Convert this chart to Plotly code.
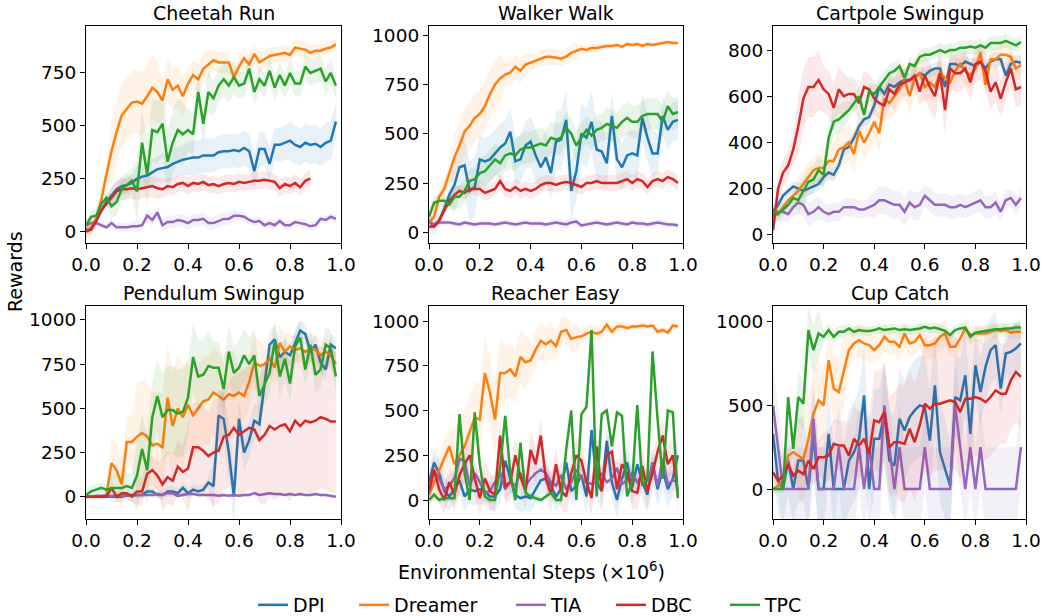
import plotly.graph_objects as go
from plotly.subplots import make_subplots

# ---------------- data ----------------
STEPS = [0.00, 0.02, 0.04, 0.06, 0.08, 0.10, 0.12, 0.14, 0.16, 0.18,
         0.20, 0.22, 0.24, 0.26, 0.28, 0.30, 0.32, 0.34, 0.36, 0.38,
         0.40, 0.42, 0.44, 0.46, 0.48, 0.50, 0.52, 0.54, 0.56, 0.58,
         0.60, 0.62, 0.64, 0.66, 0.68, 0.70, 0.72, 0.74, 0.76, 0.78,
         0.80, 0.82, 0.84, 0.86, 0.88, 0.90, 0.92, 0.94, 0.96, 0.98]

METHODS = ["DPI", "Dreamer", "TIA", "DBC", "TPC"]
COLORS = {"DPI": "#1f77b4", "Dreamer": "#ff7f0e", "TIA": "#9467bd",
          "DBC": "#d62728", "TPC": "#2ca02c"}
BAND_RGB = {"DPI": "31,119,180", "Dreamer": "255,127,14", "TIA": "148,103,189",
            "DBC": "214,39,40", "TPC": "44,160,44"}

TASKS = ["Cheetah Run", "Walker Walk", "Cartpole Swingup",
         "Pendulum Swingup", "Reacher Easy", "Cup Catch"]

# ---- Cheetah Run ----
cheetah_dpi = [10, 10, 50, 100, 140, 170, 200, 215, 220, 230, 250, 260, 265, 280, 295,
               300, 305, 320, 330, 340, 345, 350, 350, 360, 360, 360, 375, 380, 380, 385,
               380, 395, 380, 285, 390, 390, 320, 410, 410, 420, 430, 410, 400, 420, 410,
               415, 400, 420, 430, 520]
cheetah_dreamer = [0, 20, 60, 150, 270, 380, 470, 550, 580, 610, 615, 605, 640, 680, 660,
                   620, 720, 670, 690, 640, 700, 740, 720, 770, 790, 810, 800, 800, 800, 730,
                   780, 820, 790, 840, 800, 815, 830, 835, 840, 845, 835, 870, 865, 860, 845,
                   855, 855, 865, 870, 885]
cheetah_tia = [30, 40, 40, 30, 20, 40, 20, 20, 20, 25, 25, 30, 75, 55, 90,
               30, 45, 45, 55, 50, 40, 55, 55, 60, 40, 40, 50, 60, 60, 75,
               75, 70, 55, 45, 50, 30, 40, 30, 50, 30, 30, 45, 40, 35, 25,
               30, 60, 55, 70, 60]
cheetah_dbc = [0, 10, 50, 100, 130, 160, 190, 200, 200, 205, 200, 205, 210, 215, 205,
               200, 215, 210, 225, 230, 215, 230, 225, 235, 220, 225, 215, 225, 230, 225,
               235, 230, 235, 240, 240, 245, 240, 235, 205, 225, 215, 230, 210, 240, 250]
cheetah_tpc = [30, 70, 75, 130, 160, 120, 140, 200, 220, 240, 190, 420, 270, 480, 470,
               510, 330, 420, 480, 460, 480, 460, 660, 510, 660, 630, 690, 720, 690, 730,
               690, 700, 770, 660, 720, 690, 760, 680, 740, 690, 750, 700, 700, 780, 750,
               760, 770, 710, 750, 690]

# ---- Walker Walk ----
walker_dpi = [60, 30, 60, 120, 190, 240, 330, 340, 210, 230, 370, 360, 370, 400, 430,
              450, 510, 360, 370, 440, 460, 390, 330, 380, 300, 460, 470, 570, 210, 310,
              500, 480, 560, 420, 410, 350, 590, 370, 330, 390, 400, 390, 580, 480, 400,
              400, 590, 520, 560, 570]
walker_dreamer = [50, 80, 180, 220, 300, 380, 440, 510, 540, 580, 600, 640, 700, 750, 780,
                  800, 810, 840, 820, 850, 860, 870, 880, 890, 890, 885, 880, 890, 910, 920,
                  930, 925, 935, 935, 940, 945, 945, 950, 940, 955, 950, 955, 945, 955, 950,
                  955, 960, 965, 960, 960]
walker_tia = [50, 40, 50, 50, 50, 45, 40, 50, 45, 40, 45, 45, 45, 40, 45,
              50, 45, 40, 45, 50, 45, 45, 45, 40, 45, 50, 45, 40, 50, 55,
              35, 40, 45, 50, 45, 40, 45, 50, 45, 40, 50, 45, 45, 40, 45,
              50, 45, 40, 40, 35]
walker_dbc = [30, 30, 60, 110, 160, 190, 210, 200, 220, 220, 220, 200, 210, 220, 260,
              220, 210, 230, 210, 220, 210, 220, 240, 250, 250, 240, 250, 255, 250, 240,
              230, 250, 250, 260, 250, 250, 250, 250, 260, 270, 250, 270, 260, 230, 260,
              270, 260, 280, 270, 250]
walker_tpc = [80, 150, 160, 160, 140, 180, 180, 210, 260, 270, 300, 310, 340, 370, 350,
              390, 400, 390, 420, 430, 430, 440, 450, 440, 480, 470, 480, 530, 500, 440,
              480, 520, 490, 520, 530, 550, 540, 530, 560, 580, 560, 560, 590, 600, 600,
              600, 560, 640, 600, 610]

# ---- Cartpole Swingup ----
cartpole_dpi = [100, 130, 170, 190, 210, 200, 190, 200, 210, 220, 250, 270, 260, 300, 370,
                380, 420, 470, 500, 510, 560, 640, 610, 650, 640, 660, 670, 670, 680, 700,
                690, 710, 720, 720, 640, 740, 740, 730, 750, 740, 730, 750, 720, 750, 760,
                760, 690, 740, 750, 745]
cartpole_dreamer = [80, 90, 120, 150, 170, 190, 220, 250, 280, 290, 290, 320, 320, 370, 380,
                    400, 350, 450, 400, 440, 490, 440, 590, 570, 600, 630, 670, 600, 680, 700,
                    640, 660, 640, 700, 680, 660, 710, 740, 710, 690, 720, 790, 650, 760, 760,
                    780, 780, 770, 720, 735]
cartpole_tia = [90, 100, 100, 90, 120, 140, 130, 90, 100, 120, 100, 90, 100, 100, 120,
                120, 120, 110, 110, 120, 130, 150, 150, 140, 130, 130, 100, 140, 120, 130,
                170, 150, 130, 130, 130, 120, 120, 130, 120, 130, 140, 150, 120, 120, 140,
                100, 150, 160, 130, 160]
cartpole_dbc = [20, 200, 270, 300, 370, 470, 590, 640, 640, 670, 630, 610, 550, 630, 600,
                610, 610, 570, 640, 630, 590, 570, 560, 630, 610, 650, 660, 670, 690, 620,
                690, 640, 600, 700, 540, 720, 700, 700, 720, 660, 740, 750, 710, 620, 660,
                590, 660, 720, 630, 640]
cartpole_tpc = [110, 90, 110, 130, 160, 150, 190, 230, 240, 280, 260, 420, 490, 500, 520,
                540, 570, 600, 520, 620, 610, 640, 670, 700, 710, 730, 680, 740, 730, 770,
                780, 780, 790, 800, 790, 800, 800, 810, 810, 815, 810, 820, 810, 830, 830,
                830, 840, 830, 820, 835]

# ---- Pendulum Swingup ----
pendulum_dpi = [0, 0, 0, 0, 0, 0, 0, 0, 10, 10, 10, 10, 30, 30, 10,
                10, 30, 30, 20, 50, 20, 40, 30, 40, 80, 60, 460, 440, 250, 0,
                440, 250, 320, 430, 410, 650, 860, 890, 790, 820, 800, 870, 940, 920, 820,
                860, 760, 720, 860, 840]
pendulum_dreamer = [0, 0, 0, 0, 10, 190, 150, 70, 310, 310, 340, 360, 340, 290, 300,
                    280, 560, 400, 500, 450, 520, 460, 500, 540, 550, 590, 570, 550, 580, 570,
                    590, 570, 650, 760, 740, 750, 780, 730, 870, 820, 850, 830, 840, 820, 840,
                    830, 800, 820, 800, 750]
pendulum_tia = [0, 0, 5, 5, 5, 5, 5, 5, 5, 5, 10, 10, 10, 10, 15,
                10, 20, 20, 5, 10, 15, 15, 10, 10, 10, 10, 5, 10, 5, 10,
                5, 10, 10, 20, 10, 15, 20, 15, 15, 10, 15, 10, 15, 10, 10,
                15, 10, 10, 5, 0]
pendulum_dbc = [0, 0, 0, 0, 0, 50, 0, 20, 20, 0, 30, 30, 130, 150, 120,
                70, 110, 90, 170, 140, 160, 280, 280, 260, 230, 250, 260, 340, 350, 390,
                350, 370, 390, 380, 320, 350, 400, 380, 400, 410, 370, 430, 400, 430, 420,
                430, 450, 440, 425, 425]
pendulum_tpc = [10, 30, 40, 50, 40, 50, 50, 50, 60, 50, 120, 270, 150, 450, 570,
                450, 490, 490, 470, 480, 560, 790, 680, 690, 740, 730, 730, 610, 820, 700,
                730, 800, 750, 800, 570, 640, 700, 880, 680, 780, 640, 850, 900, 720, 860,
                690, 720, 860, 840, 680]

# ---- Reacher Easy ----
reacher_dpi = [100, 210, 150, 50, 20, 60, 110, 20, 60, 50, 60, 50, 20, 20, 60,
               220, 120, 30, 10, 20, 10, 60, 110, 120, 80, 20, 60, 210, 50, 80,
               140, 20, 390, 100, 50, 330, 100, 0, 120, 210, 70, 200, 100, 30, 210,
               60, 170, 60, 120, 250]
reacher_dreamer = [30, 100, 170, 230, 300, 200, 250, 300, 380, 460, 450, 710, 600, 450, 710,
                   710, 730, 690, 800, 770, 780, 840, 890, 870, 890, 860, 940, 950, 900, 910,
                   915, 930, 940, 930, 940, 980, 940, 970, 970, 960, 970, 970, 975, 970, 975,
                   940, 950, 935, 975, 970]
reacher_tia = [50, 160, 120, 60, 80, 120, 230, 220, 80, 150, 100, 40, 50, 100, 150,
               60, 100, 80, 150, 80, 120, 150, 170, 150, 100, 80, 140, 60, 100, 170,
               120, 100, 90, 100, 150, 100, 120, 180, 90, 110, 150, 100, 140, 100, 200,
               80, 230, 90, 110, 100]
reacher_dbc = [50, 170, 60, 0, 100, 30, 140, 200, 250, 120, 10, 120, 50, 30, 360,
               80, 100, 250, 130, 50, 280, 200, 360, 120, 30, 200, 50, 20, 150, 250,
               220, 100, 10, 300, 50, 250, 270, 60, 200, 150, 50, 40, 190, 50, 150,
               270, 360, 200, 250, 30]
reacher_tpc = [0, 30, 0, 10, 10, 10, 480, 150, 0, 490, 200, 20, 0, 0, 180,
               470, 150, 0, 320, 40, 20, 10, 0, 20, 40, 0, 0, 280, 500, 0,
               480, 520, 950, 20, 480, 500, 300, 490, 470, 20, 100, 530, 80, 120, 830,
               450, 120, 500, 490, 10]

# ---- Cup Catch ----
cup_dpi = [330, 50, 0, 170, 0, 170, 170, 0, 320, 0, 0, 330, 0, 0, 0,
           170, 220, 300, 560, 0, 300, 300, 450, 170, 140, 420, 350, 430, 470, 500,
           490, 290, 620, 220, 120, 20, 550, 530, 680, 330, 740, 580, 730, 830, 860,
           600, 810, 820, 840, 870]
cup_dreamer = [0, 20, 50, 200, 220, 200, 180, 300, 450, 530, 500, 770, 600, 580, 700,
               830, 870, 890, 870, 860, 830, 860, 910, 880, 880, 850, 930, 870, 880, 920,
               860, 860, 870, 910, 930, 850, 850, 900, 960, 920, 930, 930, 930, 940, 950,
               945, 950, 935, 940, 940]
cup_tia = [500, 250, 0, 0, 0, 0, 0, 0, 420, 0, 0, 0, 0, 250, 0,
           0, 0, 250, 0, 250, 0, 0, 500, 250, 0, 250, 0, 0, 0, 0,
           250, 0, 0, 0, 0, 0, 500, 250, 0, 250, 0, 250, 0, 0, 0,
           0, 0, 0, 0, 250]
cup_dbc = [100, 50, 80, 150, 80, 110, 90, 170, 120, 190, 190, 200, 270, 260, 260,
           200, 300, 260, 300, 210, 410, 400, 460, 250, 280, 280, 270, 360, 280, 380,
           510, 480, 510, 510, 520, 530, 520, 460, 540, 540, 550, 540, 520, 550, 590,
           570, 570, 650, 700, 670]
cup_tpc = [0, 0, 0, 550, 240, 550, 510, 950, 830, 930, 910, 950, 910, 940, 940,
           960, 940, 950, 945, 945, 950, 960, 950, 955, 960, 950, 955, 950, 955, 960,
           970, 960, 965, 955, 945, 920, 950, 960, 965, 910, 935, 940, 945, 950, 955,
           955, 960, 960, 965, 965]

# band half-widths, one value per 0.1 segment of steps
SPREAD = {
    "Cheetah Run": {"DPI": [20, 40, 60, 70, 80, 80, 80, 80, 90, 90],
                    "Dreamer": [40, 150, 150, 100, 70, 50, 50, 40, 40, 30],
                    "TIA": [15, 20, 30, 30, 30, 30, 20, 20, 20, 20],
                    "DBC": [20, 50, 50, 40, 40, 40, 40, 40, 40],
                    "TPC": [30, 60, 150, 150, 100, 80, 60, 60, 60, 60]},
    "Walker Walk": {"DPI": [40, 150, 120, 120, 130, 150, 150, 120, 120, 100],
                    "Dreamer": [50, 120, 120, 60, 40, 40, 20, 15, 15, 10],
                    "TIA": [15, 15, 15, 15, 15, 20, 15, 15, 15, 15],
                    "DBC": [20, 30, 40, 40, 40, 40, 40, 40, 40, 40],
                    "TPC": [30, 60, 80, 80, 80, 80, 70, 80, 80, 80]},
    "Cartpole Swingup": {"DPI": [20, 30, 30, 30, 30, 30, 30, 30, 30, 30],
                         "Dreamer": [30, 60, 80, 80, 80, 80, 70, 60, 50, 50],
                         "TIA": [40, 50, 40, 40, 60, 60, 50, 50, 50, 40],
                         "DBC": [60, 130, 100, 70, 70, 60, 100, 80, 80, 80],
                         "TPC": [30, 60, 60, 40, 40, 30, 30, 30, 30, 30]},
    "Pendulum Swingup": {"DPI": [5, 10, 20, 30, 30, 150, 100, 80, 60, 60],
                         "Dreamer": [10, 150, 300, 300, 250, 250, 150, 100, 80, 80],
                         "TIA": [10, 10, 10, 10, 10, 10, 10, 10, 10, 10],
                         "DBC": [5, 30, 80, 150, 250, 300, 350, 400, 400, 400],
                         "TPC": [30, 80, 200, 250, 200, 150, 150, 120, 100, 100]},
    "Reacher Easy": {"DPI": [80, 80, 80, 80, 80, 80, 100, 100, 100, 100],
                     "Dreamer": [100, 200, 200, 150, 100, 80, 40, 30, 20, 20],
                     "TIA": [60, 60, 60, 60, 60, 60, 60, 60, 60, 60],
                     "DBC": [80, 100, 100, 100, 100, 100, 100, 100, 100, 100],
                     "TPC": [20, 20, 20, 20, 20, 20, 20, 20, 20, 20]},
    "Cup Catch": {"DPI": [200, 250, 250, 300, 300, 300, 300, 250, 200, 150],
                  "Dreamer": [50, 250, 200, 100, 80, 80, 80, 60, 50, 40],
                  "TIA": [250, 250, 250, 250, 250, 250, 250, 250, 250, 250],
                  "DBC": [50, 100, 150, 200, 300, 350, 400, 400, 350, 300],
                  "TPC": [20, 150, 40, 30, 30, 30, 30, 30, 30, 30]},
}

DATA = {
    "Cheetah Run": [cheetah_dpi, cheetah_dreamer, cheetah_tia, cheetah_dbc, cheetah_tpc],
    "Walker Walk": [walker_dpi, walker_dreamer, walker_tia, walker_dbc, walker_tpc],
    "Cartpole Swingup": [cartpole_dpi, cartpole_dreamer, cartpole_tia, cartpole_dbc, cartpole_tpc],
    "Pendulum Swingup": [pendulum_dpi, pendulum_dreamer, pendulum_tia, pendulum_dbc, pendulum_tpc],
    "Reacher Easy": [reacher_dpi, reacher_dreamer, reacher_tia, reacher_dbc, reacher_tpc],
    "Cup Catch": [cup_dpi, cup_dreamer, cup_tia, cup_dbc, cup_tpc],
}

Y_TICKS = {
    "Cheetah Run": [0, 250, 500, 750],
    "Walker Walk": [0, 250, 500, 750, 1000],
    "Cartpole Swingup": [0, 200, 400, 600, 800],
    "Pendulum Swingup": [0, 250, 500, 750, 1000],
    "Reacher Easy": [0, 250, 500, 750, 1000],
    "Cup Catch": [0, 500, 1000],
}
Y_RANGE = {
    "Cheetah Run": [-54, 972],
    "Walker Walk": [-54, 1046],
    "Cartpole Swingup": [-35, 904],
    "Pendulum Swingup": [-126, 1079],
    "Reacher Easy": [-106, 1084],
    "Cup Catch": [-179, 1094],
}
X_TICKS = [0.0, 0.2, 0.4, 0.6, 0.8, 1.0]

# ---------------- layout geometry ----------------
W, H = 1042, 616
X_DOM = [[86 / W, 341 / W], [429 / W, 683 / W], [773 / W, 1026 / W]]
Y_DOM = [[1 - 243 / H, 1 - 26 / H], [1 - 519 / H, 1 - 306 / H]]
LEGEND_X_PX = {"DPI": 253, "Dreamer": 354, "TIA": 511, "DBC": 611, "TPC": 725}
LEGEND_Y = 1 - 605 / H

FONT = "DejaVu Sans"
fig = make_subplots(rows=2, cols=3)

for k, task in enumerate(TASKS):
    r, c = k // 3 + 1, k % 3 + 1
    for m, method in enumerate(METHODS):
        ys = DATA[task][m]
        xs = STEPS[:len(ys)]
        sp = SPREAD[task][method]
        upper = [y + sp[i // 5] for i, y in enumerate(ys)]
        lower = [y - sp[i // 5] for i, y in enumerate(ys)]
        fig.add_trace(go.Scatter(
            x=xs + xs[::-1], y=upper + lower[::-1], fill="toself",
            fillcolor=f"rgba({BAND_RGB[method]},0.1)", line=dict(width=0),
            mode="lines", hoverinfo="skip", showlegend=False), row=r, col=c)
        leg = "legend" if m == 0 else f"legend{m + 1}"
        fig.add_trace(go.Scatter(
            x=xs, y=ys, mode="lines", name=method,
            line=dict(color=COLORS[method], width=2.5),
            showlegend=(k == 0), legendgroup=method, legend=leg), row=r, col=c)

    xd, yd = X_DOM[c - 1], Y_DOM[r - 1]
    axis_style = dict(showgrid=False, zeroline=False, automargin=False,
                      showline=True, mirror=True, linecolor="black", linewidth=1.2,
                      ticks="outside", ticklen=5, tickwidth=1.2, tickcolor="black",
                      tickfont=dict(family=FONT, size=18.5, color="black"))
    fig.update_xaxes(row=r, col=c, domain=xd, range=[0, 1], tickvals=X_TICKS,
                     tickformat=".1f", **axis_style)
    fig.update_yaxes(row=r, col=c, domain=yd, range=Y_RANGE[task],
                     tickvals=Y_TICKS[task], **axis_style)
    fig.add_annotation(text=task, xref="paper", yref="paper",
                       x=(xd[0] + xd[1]) / 2, y=yd[1], xanchor="center", yanchor="bottom",
                       showarrow=False, borderpad=0, yshift=1,
                       font=dict(family=FONT, size=19, color="black"))

fig.add_annotation(text="Environmental Steps (×10<sup>6</sup>)", xref="paper", yref="paper",
                   x=531 / W, y=1 - 571 / H, xanchor="center", yanchor="middle",
                   showarrow=False, font=dict(family=FONT, size=19, color="black"))
fig.add_annotation(text="Rewards", xref="paper", yref="paper",
                   x=15 / W, y=1 - 272 / H, xanchor="center", yanchor="middle",
                   textangle=-90, showarrow=False,
                   font=dict(family=FONT, size=19, color="black"))

legend_style = dict(orientation="h", xanchor="left", y=LEGEND_Y, yanchor="middle",
                    font=dict(family=FONT, size=19, color="black"),
                    bgcolor="rgba(0,0,0,0)", itemwidth=30, borderwidth=0)
layout_legends = {}
for m, method in enumerate(METHODS):
    key = "legend" if m == 0 else f"legend{m + 1}"
    layout_legends[key] = dict(x=LEGEND_X_PX[method] / W, **legend_style)

fig.update_layout(
    width=W, height=H, margin=dict(l=0, r=0, t=0, b=0, autoexpand=False),
    plot_bgcolor="white", paper_bgcolor="white",
    showlegend=True, **layout_legends,
)

fig.write_html("out.html")
